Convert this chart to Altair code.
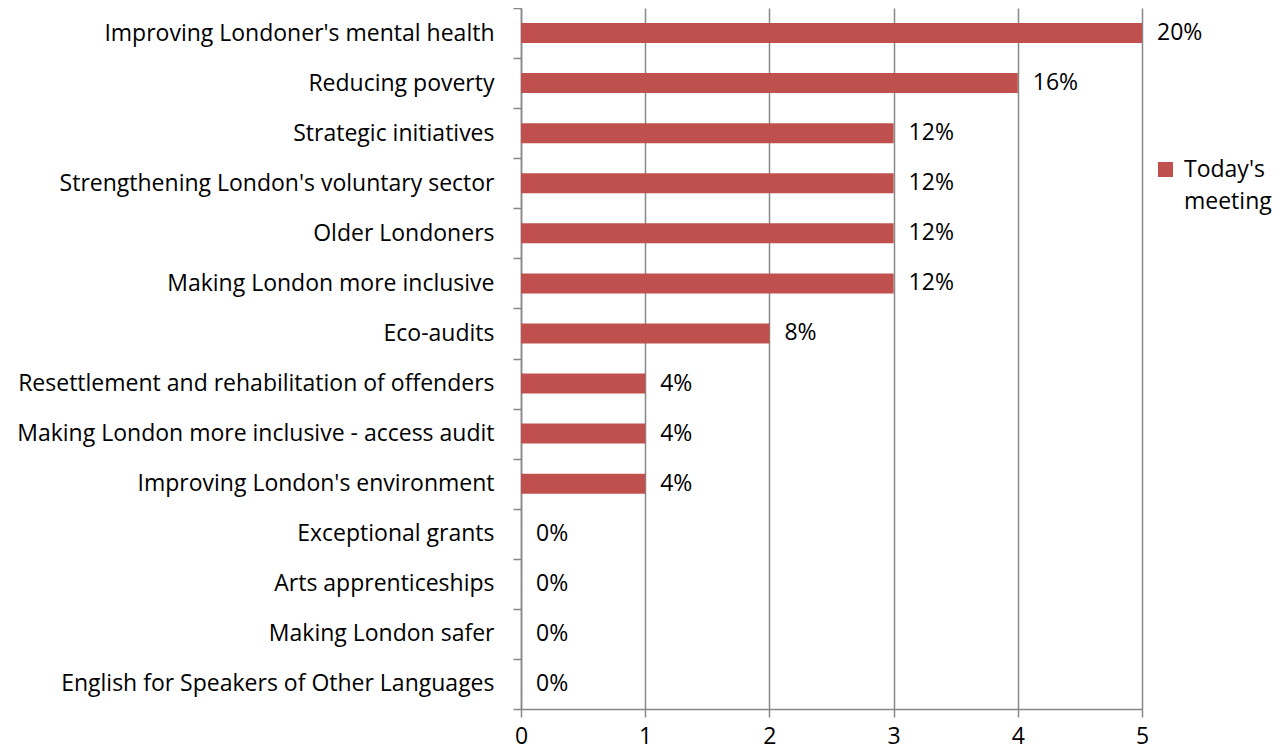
import altair as alt
import pandas as pd

categories = [
    "Improving Londoner's mental health",
    "Reducing poverty",
    "Strategic initiatives",
    "Strengthening London's voluntary sector",
    "Older Londoners",
    "Making London more inclusive",
    "Eco-audits",
    "Resettlement and rehabilitation of offenders",
    "Making London more inclusive - access audit",
    "Improving London's environment",
    "Exceptional grants",
    "Arts apprenticeships",
    "Making London safer",
    "English for Speakers of Other Languages",
]
values = [5, 4, 3, 3, 3, 3, 2, 1, 1, 1, 0, 0, 0, 0]
pct_labels = ["20%", "16%", "12%", "12%", "12%", "12%", "8%", "4%", "4%", "4%", "0%", "0%", "0%", "0%"]
series_name = "Today's meeting"
x_ticks = [0, 1, 2, 3, 4, 5]

df = pd.DataFrame({
    "category": categories,
    "value": values,
    "label": pct_labels,
    "series": [series_name] * len(categories),
})

FONT = "Open Sans"
FS = 23
GRID = "#878787"
RED = "#C0504D"

y_enc = alt.Y(
    "category:N",
    sort=categories,
    scale=alt.Scale(paddingInner=0, paddingOuter=0),
    axis=alt.Axis(
        title=None, tickBand="extent", grid=False,
        domainColor=GRID, domainWidth=1.5, tickColor=GRID, tickWidth=1.5, tickSize=8,
        labelFont=FONT, labelFontSize=FS, labelColor="black", labelPadding=19, labelLimit=600,
    ),
)
x_enc = alt.X(
    "value:Q",
    scale=alt.Scale(domain=[0, 5], nice=False),
    axis=alt.Axis(
        title=None, values=x_ticks, format="d", grid=True, gridColor=GRID, gridWidth=1.5,
        domainColor=GRID, domainWidth=1.5, tickColor=GRID, tickWidth=1.5, tickSize=8,
        labelFont=FONT, labelFontSize=FS, labelColor="black", labelPadding=8,
        labelFlush=False,
    ),
)

bars = alt.Chart(df).mark_bar(color=RED, size=20).encode(
    y=y_enc,
    x=x_enc,
    color=alt.Color(
        "series:N",
        scale=alt.Scale(range=[RED]),
        legend=alt.Legend(
            title=None, orient="none", legendX=633, legendY=150,
            symbolType="square", symbolSize=225, symbolStrokeWidth=0,
            labelFont=FONT, labelFontSize=FS, labelColor="black",
            labelExpr="split(datum.label, ' ')", labelOffset=7, padding=0,
            labelBaseline="middle",
        ),
    ),
)

text = alt.Chart(df).mark_text(align="left", dx=15, font=FONT, fontSize=FS, color="black").encode(
    y=alt.Y("category:N", sort=categories),
    x=alt.X("value:Q"),
    text="label:N",
)

chart = alt.layer(bars, text).properties(
    width=621, height=701,
    autosize=alt.AutoSizeParams(type="none"),
    padding={"left": 513, "top": 0, "right": 135, "bottom": 40},
).configure(style={"guide-label": {"lineHeight": 32}}).configure_view(stroke=None)

chart.save("out.html", embed_options={"renderer": "svg", "actions": False})
